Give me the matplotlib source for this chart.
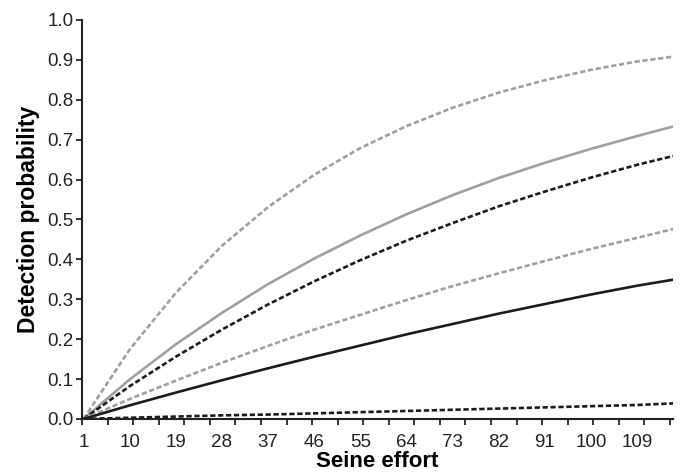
import numpy as np
import matplotlib.pyplot as plt

plt.rcParams['font.family'] = ['Liberation Sans', 'DejaVu Sans']

# seine effort (x) and detection probability curves
effort = [1, 10, 19, 28, 37, 46, 55, 64, 73, 82, 91, 100, 109, 116]
gray_dash_hi = [0.0, 0.174, 0.316, 0.434, 0.531, 0.612, 0.679, 0.734, 0.780, 0.818, 0.849, 0.875, 0.896, 0.908]
gray_solid = [0.0, 0.099, 0.187, 0.266, 0.338, 0.402, 0.460, 0.513, 0.561, 0.604, 0.642, 0.677, 0.709, 0.733]
black_dash = [0.0, 0.082, 0.156, 0.224, 0.287, 0.345, 0.398, 0.447, 0.491, 0.533, 0.570, 0.605, 0.637, 0.659]
gray_dash_lo = [0.0, 0.050, 0.096, 0.141, 0.183, 0.224, 0.261, 0.298, 0.333, 0.365, 0.396, 0.426, 0.454, 0.476]
black_solid = [0.0, 0.034, 0.066, 0.097, 0.127, 0.156, 0.184, 0.212, 0.238, 0.264, 0.288, 0.312, 0.334, 0.349]
black_dash_lo = [0.0, 0.003, 0.006, 0.009, 0.011, 0.014, 0.017, 0.020, 0.023, 0.026, 0.029, 0.032, 0.035, 0.039]

xtick_labels = [1, 10, 19, 28, 37, 46, 55, 64, 73, 82, 91, 100, 109]

GRAY = '#a0a0a0'
BLACK = '#1c1c1c'
LW = 1.9
DASH = (2.0, 1.0)

fig = plt.figure(figsize=(6.81, 4.75), dpi=100)
ax = fig.add_axes([0.1204, 0.118, 0.868, 0.840])

ax.plot(effort, gray_dash_hi, color=GRAY, lw=LW, dashes=DASH)
ax.plot(effort, gray_solid, color=GRAY, lw=LW)
ax.plot(effort, black_dash, color=BLACK, lw=LW, dashes=DASH)
ax.plot(effort, gray_dash_lo, color=GRAY, lw=LW, dashes=DASH)
ax.plot(effort, black_solid, color=BLACK, lw=LW)
ax.plot(effort, black_dash_lo, color=BLACK, lw=LW, dashes=DASH)

ax.set_xlim(0.7, 116)
ax.set_ylim(0, 1.0)

for s in ['top', 'right']:
    ax.spines[s].set_visible(False)
for s in ['left', 'bottom']:
    ax.spines[s].set_linewidth(1.5)
    ax.spines[s].set_color('#222222')

ax.set_yticks(np.arange(0, 1.01, 0.1))
ax.set_yticklabels([f"{v:.1f}" for v in np.arange(0, 1.01, 0.1)])
ax.set_xticks(xtick_labels)
ax.set_xticks(np.linspace(0.7, 115.4, 24), minor=True)
ax.tick_params(axis='x', which='major', length=0, labelsize=13.5, colors='#222222', pad=11)
ax.tick_params(axis='x', which='minor', length=4, width=1.3, direction='out', colors='#222222')
ax.tick_params(axis='y', which='major', length=4, width=1.3, labelsize=13.5, colors='#222222', pad=2)

ax.set_xlabel("Seine effort", fontsize=16, fontweight='bold', labelpad=0)
ax.set_ylabel("Detection probability", fontsize=16.5, fontweight='bold', labelpad=5)

fig.savefig("out.png", dpi=100)
